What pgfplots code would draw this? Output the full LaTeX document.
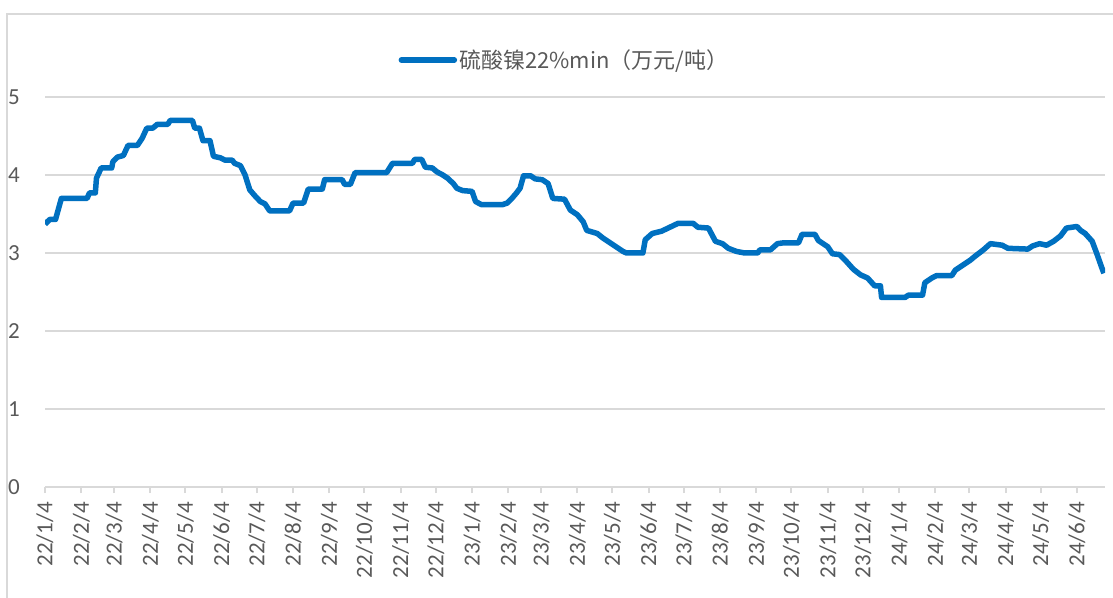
\documentclass[border=0pt]{standalone}
\usepackage{pgfplots}
\pgfplotsset{compat=1.18}
\usepackage{fontspec}
\setmainfont{Carlito}
\newfontfamily\cjk{Noto Sans CJK SC}
\definecolor{lineblue}{RGB}{0,112,192}
\definecolor{gridgray}{RGB}{217,217,217}
\definecolor{labgray}{RGB}{89,89,89}
\begin{document}
\begin{tikzpicture}[x=1pt,y=1pt]
\useasboundingbox (-45,-110) rectangle (1068,487);
\draw[gridgray, line width=2pt] (-38,-112) -- (-38,473) -- (1070,473);
\begin{axis}[
  at={(0,0)}, anchor=south west,
  scale only axis, width=1060pt, height=390pt,
  xmin=0, xmax=906, ymin=0, ymax=5,
  axis lines*=left,
  x axis line style={gridgray, line width=2pt},
  y axis line style={draw=none},
  ytick={0,1,2,3,4,5},
  ymajorgrids, grid style={gridgray, line width=1.6pt},
  ytick style={draw=none},
  xtick={0,31,59,90,120,151,181,212,243,273,304,334,365,396,424,455,485,516,546,577,608,638,669,699,730,761,790,821,851,882},
  xticklabels={22/1/4,22/2/4,22/3/4,22/4/4,22/5/4,22/6/4,22/7/4,22/8/4,22/9/4,22/10/4,22/11/4,22/12/4,23/1/4,23/2/4,23/3/4,23/4/4,23/5/4,23/6/4,23/7/4,23/8/4,23/9/4,23/10/4,23/11/4,23/12/4,24/1/4,24/2/4,24/3/4,24/4/4,24/5/4,24/6/4},
  x tick style={gridgray, line width=2pt},
  tick align=outside, major tick length=6pt,
  /pgf/number format/assume math mode=true,
  tick label style={font=\fontsize{23}{26}\selectfont, text=labgray},
  xticklabel style={rotate=90, anchor=east, inner sep=0pt},
  xticklabel shift=9pt,
  yticklabel style={anchor=east, inner sep=0pt},
  yticklabel shift=19pt,
  legend style={at={(0.490,1.095)}, anchor=center, draw=none, fill=none,
    font=\fontsize{22}{25}\selectfont\cjk, text=labgray, inner sep=0pt},
  legend image code/.code={\draw[#1, line cap=round] (0pt,0pt) -- (53pt,0pt);},
  legend cell align=left,
]
\addplot[lineblue, line width=5.5pt, line join=round] coordinates {
(0,3.37)(4,3.43)(9,3.43)(14,3.70)(36,3.70)(38,3.77)(43,3.77)(44,3.96)(48,4.09)(57,4.09)
(58,4.17)(62,4.23)(67,4.25)(71,4.38)(79,4.38)(83,4.47)(87,4.60)(92,4.60)(96,4.65)(105,4.65)
(107,4.70)(126,4.70)(128,4.60)(132,4.60)(135,4.44)(141,4.44)(144,4.24)(150,4.22)(154,4.19)(160,4.19)
(162,4.15)(167,4.12)(171,4.00)(175,3.81)(179,3.74)(184,3.66)(188,3.63)(192,3.54)(209,3.54)(212,3.64)
(221,3.64)(225,3.82)(237,3.82)(239,3.94)(254,3.94)(256,3.88)(261,3.88)(265,4.03)(292,4.03)(297,4.15)
(314,4.15)(316,4.20)(322,4.20)(325,4.10)(331,4.09)(335,4.04)(340,4.00)(344,3.96)(349,3.89)(352,3.83)
(357,3.80)(365,3.79)(368,3.66)(373,3.62)(391,3.62)(395,3.64)(399,3.70)(403,3.77)(406,3.83)(409,3.99)
(415,3.99)(419,3.95)(425,3.94)(430,3.89)(434,3.70)(444,3.69)(449,3.55)(455,3.49)(460,3.40)(463,3.29)
(472,3.25)(477,3.19)(483,3.13)(489,3.07)(494,3.02)(497,3.00)(511,3.00)(513,3.17)(519,3.25)(527,3.28)
(534,3.33)(541,3.38)(554,3.38)(558,3.33)(567,3.32)(573,3.15)(579,3.12)(584,3.06)(591,3.02)(598,3.00)
(609,3.00)(611,3.04)(620,3.04)(626,3.12)(631,3.13)(644,3.13)(647,3.24)(658,3.24)(661,3.16)(665,3.12)
(669,3.08)(673,2.99)(679,2.98)(685,2.89)(691,2.79)(697,2.72)(703,2.68)(709,2.58)(714,2.58)(715,2.43)
(735,2.43)(738,2.46)(750,2.46)(752,2.62)(758,2.68)(762,2.71)(775,2.71)(778,2.78)(785,2.85)(791,2.91)
(795,2.96)(802,3.04)(808,3.12)(818,3.10)(823,3.06)(840,3.05)(844,3.09)(850,3.12)(856,3.10)(862,3.15)
(868,3.22)(873,3.32)(882,3.34)(885,3.29)(889,3.25)(895,3.15)(899,2.99)(903,2.82)(905,2.74)
};
\addlegendentry{硫酸镍22\%min（万元/吨）}
\end{axis}
\end{tikzpicture}
\end{document}
